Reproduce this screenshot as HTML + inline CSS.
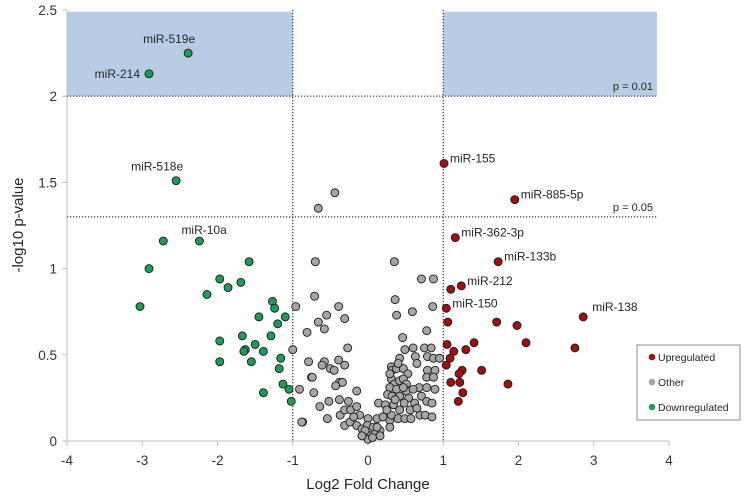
<!DOCTYPE html>
<html><head><meta charset="utf-8"><style>
html,body{margin:0;padding:0;background:#fff;}
svg{display:block;font-family:"Liberation Sans",Arial,sans-serif;}
</style></head><body>
<svg id="chart" width="748" height="496" viewBox="0 0 748 496" xmlns="http://www.w3.org/2000/svg"></svg>
<script>
const xTicks=[-4,-3,-2,-1,0,1,2,3,4];
const yTicks=[0,0.5,1,1.5,2,2.5];
const yTickLabels=["0","0.5","1","1.5","2","2.5"];
const downX=[-2.39,-2.91,-2.55,-2.72,-2.24,-2.91,-1.58,-1.97,-1.86,-1.69,-2.14,-3.03,-1.27,-1.24,-1.45,-1.10,-1.20,-1.67,-1.29,-1.97,-1.50,-1.63,-1.65,-1.39,-1.97,-1.55,-1.16,-1.18,-1.13,-1.05,-1.39,-1.02];
const downY=[2.25,2.13,1.51,1.16,1.16,1.00,1.04,0.94,0.89,0.92,0.85,0.78,0.81,0.77,0.72,0.72,0.68,0.61,0.61,0.58,0.56,0.53,0.52,0.52,0.46,0.46,0.48,0.42,0.33,0.30,0.28,0.23];
const upX=[1.01,1.95,1.16,1.73,1.24,1.10,1.04,2.86,1.06,1.71,1.98,1.41,2.10,1.05,1.30,1.14,2.75,1.09,1.04,1.25,1.21,1.51,1.10,1.22,1.86,1.26,1.20];
const upY=[1.61,1.40,1.18,1.04,0.90,0.88,0.77,0.72,0.69,0.69,0.67,0.57,0.57,0.56,0.53,0.52,0.54,0.48,0.44,0.41,0.39,0.41,0.34,0.34,0.33,0.28,0.23];
const otherX=[-0.44,-0.66,-0.70,0.35,0.71,0.87,-0.71,0.36,-0.96,-0.39,-0.55,-0.31,0.38,0.59,0.86,-0.66,-0.58,-0.81,0.78,0.46,-0.27,-1.00,0.49,0.60,0.75,0.84,-0.79,-0.58,-0.61,-0.39,-0.31,-0.50,-0.45,0.42,0.63,0.65,0.79,0.87,0.95,0.31,0.32,0.38,0.47,0.53,0.79,0.89,-0.75,-0.38,-0.34,0.78,0.87,-0.91,-0.72,-0.43,-0.15,0.31,0.35,0.42,0.47,0.51,0.29,0.38,0.68,0.78,0.89,-0.52,-0.64,-0.38,-0.26,0.26,0.32,0.42,0.54,0.71,0.78,0.14,0.23,0.34,0.48,0.62,0.85,-0.87,-0.54,-0.37,-0.31,-0.23,-0.15,-0.11,0.00,0.12,0.20,0.29,0.40,0.49,0.57,0.69,0.76,0.85,-0.31,-0.24,-0.15,-0.08,-0.01,0.07,0.16,0.29,0.31,-0.19,-0.02,0.03,0.00,0.09,0.12,0.16,-0.04,-0.08,0.06,0.25,0.42,0.56,0.65,0.36,0.51,0.60,0.40,0.29,0.47,-0.74,-0.88];
const otherY=[1.44,1.35,1.04,1.04,0.94,0.94,0.84,0.82,0.78,0.78,0.73,0.71,0.73,0.75,0.78,0.69,0.65,0.63,0.64,0.60,0.54,0.53,0.53,0.54,0.54,0.54,0.46,0.46,0.44,0.47,0.44,0.42,0.41,0.48,0.49,0.45,0.49,0.48,0.48,0.43,0.41,0.42,0.42,0.39,0.41,0.41,0.37,0.34,0.34,0.37,0.37,0.30,0.28,0.32,0.29,0.36,0.33,0.35,0.36,0.33,0.31,0.30,0.31,0.31,0.30,0.23,0.20,0.24,0.23,0.27,0.26,0.26,0.25,0.26,0.23,0.22,0.21,0.21,0.22,0.22,0.22,0.11,0.13,0.15,0.18,0.18,0.20,0.15,0.13,0.13,0.14,0.12,0.13,0.13,0.13,0.15,0.15,0.14,0.09,0.11,0.09,0.07,0.09,0.08,0.06,0.08,0.15,0.14,0.04,0.03,0.01,0.04,0.08,0.03,0.06,0.03,0.02,0.18,0.18,0.18,0.19,0.24,0.29,0.30,0.45,0.39,0.31,0.37,0.11];
const labelNames=["miR-519e","miR-214","miR-518e","miR-10a","miR-155","miR-885-5p","miR-362-3p","miR-133b","miR-212","miR-150","miR-138"];
const labelX=[-2.39,-2.91,-2.55,-2.24,1.01,1.95,1.16,1.73,1.24,1.04,2.86];
const labelY=[2.25,2.13,1.51,1.16,1.61,1.40,1.18,1.04,0.90,0.77,0.72];
const thresholds=[2,1.3];
const thresholdLabels=["p = 0.01","p = 0.05"];
const fcCut=[-1,1];

const X0=67,X1=669,Y0=441,Y1=10;
const sx=v=>X0+(v+4)/8*(X1-X0);
const sy=v=>Y0-v/2.5*(Y0-Y1);
const NS="http://www.w3.org/2000/svg";
const svg=document.getElementById('chart');
function mk(tag,attrs,parent){const e=document.createElementNS(NS,tag);for(const k in attrs)e.setAttribute(k,attrs[k]);(parent||svg).appendChild(e);return e;}
const RIGHT=657;
let r1=mk('rect',{x:sx(-4),y:sy(2.49),width:sx(-1)-sx(-4),height:sy(2)-sy(2.49),fill:'#b8cce4'});


let r2=mk('rect',{x:sx(1),y:sy(2.49),width:RIGHT-sx(1),height:sy(2)-sy(2.49),fill:'#b8cce4'});


let ya=mk('line',{x1:X0,y1:Y1,x2:X0,y2:Y0,stroke:'#bfbfbf','stroke-width':1});


let xa=mk('line',{x1:X0,y1:Y0,x2:X1,y2:Y0,stroke:'#bfbfbf','stroke-width':1});


xTicks.forEach(t=>{
  let tm=mk('line',{x1:sx(t),y1:Y0,x2:sx(t),y2:Y0+5,stroke:'#bfbfbf'});
  
  
  let tl=mk('text',{x:sx(t),y:Y0+24,'text-anchor':'middle','font-size':13.5,fill:'#333'});
  tl.textContent=String(t);
  
  
});
yTicks.forEach((t,i)=>{
  let tm=mk('line',{x1:X0-5,y1:sy(t),x2:X0,y2:sy(t),stroke:'#bfbfbf'});
  
  
  let tl=mk('text',{x:X0-10,y:sy(t)+5,'text-anchor':'end','font-size':13.5,fill:'#333'});
  tl.textContent=yTickLabels[i];
  
  
});
thresholds.forEach((t,i)=>{
  let l=mk('line',{x1:X0,y1:sy(t),x2:RIGHT,y2:sy(t),stroke:'#333','stroke-width':1.2,'stroke-dasharray':'1.2 1.8'});
  
  
  let tl=mk('text',{x:RIGHT-4,y:sy(t)-6,'text-anchor':'end','font-size':11,fill:'#262626'});
  tl.textContent=thresholdLabels[i];
  
  
});
fcCut.forEach(t=>{
  let l=mk('line',{x1:sx(t),y1:Y1,x2:sx(t),y2:Y0,stroke:'#333','stroke-width':1.2,'stroke-dasharray':'1.2 1.8'});
  
  
});
function series(xs,ys,fill,name){
  const g=mk('g',{});
  
  
  xs.forEach((v,i)=>{
    let c=mk('circle',{cx:sx(v),cy:sy(ys[i]),r:4,fill:fill,stroke:'#1a1a1a','stroke-width':0.9},g);
    
    
  });
}
series(otherX,otherY,'#a6a6a6','other');
series(downX,downY,'#1f9a5a','downregulated');
series(upX,upY,'#a01010','upregulated');
labelNames.forEach((n,i)=>{
  let x=sx(labelX[i]),y=sy(labelY[i]),attrs;
  if(i===0||i===2) attrs={x:x-19,y:y-10,'text-anchor':'middle'};
  else if(i===1) attrs={x:x-9,y:y+4,'text-anchor':'end'};
  else if(i===3) attrs={x:x-18,y:y-7,'text-anchor':'start'};
  else if(i===10) attrs={x:x+9,y:y-6,'text-anchor':'start'};
  else attrs={x:x+6,y:y-1,'text-anchor':'start'};
  attrs['font-size']=12;attrs.fill='#262626';
  let t=mk('text',attrs);
  t.textContent=n;
  
  
});
let xt=mk('text',{x:368,y:489,'text-anchor':'middle','font-size':15,fill:'#262626'});
xt.textContent='Log2 Fold Change';


let yt=mk('text',{x:0,y:0,'text-anchor':'middle','font-size':15,fill:'#262626',transform:'translate(23,225) rotate(-90)'});
yt.textContent='-log10 p-value';


const lg=mk('g',{});


mk('rect',{x:637,y:345,width:103,height:75,fill:'#fff',stroke:'#8c8c8c','stroke-width':1},lg);
const legNames=['Upregulated','Other','Downregulated'];
const legCols=['#a01010','#a6a6a6','#1f9a5a'];
legNames.forEach((n,i)=>{
  const y=357+i*25;
  let c=mk('circle',{cx:652,cy:y,r:3.3,fill:legCols[i]},lg);
  
  
  let t=mk('text',{x:658,y:y+4,'font-size':10.5,fill:'#262626'},lg);
  t.textContent=n;
  
  
});
</script>
</body></html>
